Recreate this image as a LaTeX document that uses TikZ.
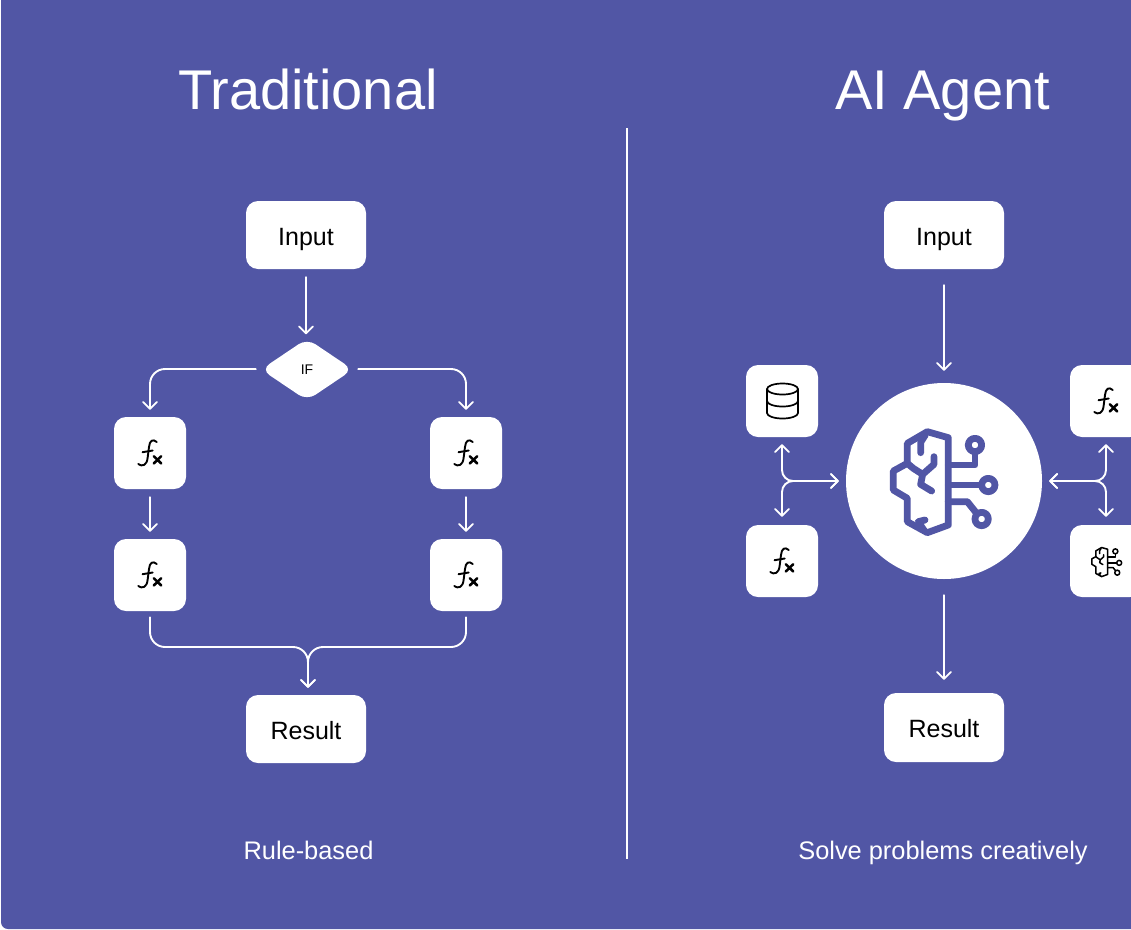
\documentclass[tikz,border=0pt]{standalone}
\usepackage{fontspec}
\setmainfont{Liberation Sans}
\usetikzlibrary{arrows.meta,shapes.geometric}
\definecolor{bgblue}{HTML}{5156A5}
\newcommand{\fxicon}[1]{%
  \begin{scope}[shift={(#1)},black,line cap=round,line join=round]
    \draw[line width=1.9] (6.7,-11) .. controls (3,-14.5) and (-0.5,-12.5) .. (-1,-6) -- (-2.4,5) .. controls (-3.2,12.5) and (-8,14) .. (-11.7,11);
    \draw[line width=1.9] (-7.5,-0.8) -- (2.7,-2.5);
    \draw[line width=2.6] (3.8,3.2) -- (11.2,10.5) (11.2,3.2) -- (3.8,10.5);
  \end{scope}}
\newcommand{\brainicon}[5]{%
  \begin{scope}[shift={(#1)},scale=#2,line cap=round,line join=round,draw=#3,line width=#4]
    \begin{scope}[shift={(-283,-291)}]
      \draw (232,140) -- (295,158) -- (295,420) -- (232,443) -- (172,410) -- (172,340) -- (130,315) -- (130,258) -- (172,235) -- (172,175) -- cycle;
      \draw (226,150) -- (212,172) -- (212,203);
      \draw (172,235) -- (190,250) -- (218,268);
      \draw (252,215) -- (252,238) -- (218,268) -- (212,298) -- (245,318);
      \draw (225,405) -- (205,410) -- (222,436);
      \draw (295,240) -- (375,240) -- (375,200);
      \draw (295,300) -- (395,300);
      \draw (295,350) -- (352,350) -- (380,385);
      \draw[fill=white] (375,180) circle (#5);
      \draw[fill=white] (415,300) circle (#5);
      \draw[fill=white] (395,402) circle (#5);
    \end{scope}
  \end{scope}}
\tikzset{
  x=1pt,y=-1pt,
  box/.style={fill=white,rounded corners=12,inner sep=0,font=\fontsize{25}{28}\selectfont,text=black,text height=20,text depth=0},
  widebox/.style={box,minimum width=120,minimum height=68},
  iconbox/.style={box,minimum width=72,minimum height=72},
  title/.style={text=white,font=\fontsize{56}{64}\selectfont,anchor=base,inner sep=0},
  caption/.style={text=white,font=\fontsize{25.4}{28}\selectfont,anchor=base,inner sep=0},
  barb/.tip={Straight Barb[length=7,width=14,line width=1.8,round]},
  link/.style={draw=white,line width=1.9,line cap=round,-barb},
  twolink/.style={draw=white,line width=1.9,line cap=round,barb-barb},
}
\begin{document}
\begin{tikzpicture}
\useasboundingbox (0,0) rectangle (1131,929);
\fill[white] (0,0) rectangle (1131,929);
\clip (0,0) rectangle (1131,929);
\fill[bgblue,rounded corners=7] (1,-30) rectangle (1160,929);
\node[title] (ttrad) at (308,109) {Traditional};
\node[title] (tai) at (942.5,109) {AI Agent};
\node[caption] (crule) at (308.5,859) {Rule-based};
\node[caption] (csolve) at (943,859) {Solve problems creatively};
\coordinate (divtop) at (627,128);
\coordinate (divbot) at (627,859);
\draw[white,line width=1.6] (divtop) -- (divbot);
% left
\node[widebox] (inA) at (306,235) {Input};
\node[diamond,fill=white,rounded corners=10,inner sep=0,minimum width=92,minimum height=62,aspect=1.5,font=\fontsize{14}{16}\selectfont,text=black] (ifd) at (307,369.5) {IF};
\node[iconbox] (fa) at (150,453) {};
\node[iconbox] (fb) at (150,575) {};
\node[iconbox] (fc) at (466,453) {};
\node[iconbox] (fd) at (466,575) {};
\node[widebox] (resA) at (306,729) {Result};
\fxicon{150,453}\fxicon{150,575}\fxicon{466,453}\fxicon{466,575}
\coordinate (merge) at (308,647);
\draw[link,shorten <=8,shorten >=4] (inA.south) -- (inA.south |- ifd.north);
\draw[link,rounded corners=15,shorten <=5,shorten >=7] (ifd.west |- fa.north |- 0,369) -| (fa.north);
\draw[link,rounded corners=15,shorten <=5,shorten >=7] (ifd.east |- 0,369) -| (fc.north);
\draw[link,shorten <=8,shorten >=7] (fa.south) -- (fb.north);
\draw[link,shorten <=8,shorten >=7] (fc.south) -- (fd.north);
\draw[link,rounded corners=15,shorten <=6,shorten >=7] (fb.south) |- (merge) -- (merge |- resA.north);
\draw[link,rounded corners=15,shorten <=6,shorten >=7] (fd.south) |- (merge) -- (merge |- resA.north);
% right
\node[widebox] (inB) at (944,235) {Input};
\node[widebox,minimum height=69] (resB) at (944,727.5) {Result};
\node[circle,fill=white,minimum size=196,inner sep=0] (hub) at (944,481) {};
\node[iconbox] (db) at (782,401) {};
\node[iconbox] (fe) at (782,561) {};
\node[iconbox] (ff) at (1106,401) {};
\node[iconbox] (br) at (1106,561) {};
\fxicon{782,561}\fxicon{1106,401}
\begin{scope}[shift={(782.5,401)},black,line width=1.7]
  \draw (0,-12) ellipse[x radius=15.5,y radius=5.5];
  \draw (-15.5,-12) -- (-15.5,12) arc[start angle=180,end angle=0,x radius=15.5,y radius=5.5] -- (15.5,-12);
  \draw (-15.5,0) arc[start angle=180,end angle=0,x radius=15.5,y radius=5.5];
\end{scope}
\brainicon{944.3,482}{0.3333}{bgblue}{6.8}{20}
\brainicon{1106.5,562}{0.096}{black}{1.5}{26}
\draw[link,shorten <=16,shorten >=12] (inB.south) -- (hub.north);
\draw[link,shorten <=16,shorten >=13] (hub.south) -- (resB.north);
\coordinate (jl) at (782,481);
\coordinate (jr) at (1106,481);
\draw[twolink,rounded corners=11,shorten <=8,shorten >=7] (fe.north) -- (jl) -- (hub.west);
\draw[twolink,rounded corners=11,shorten <=7,shorten >=7] (db.south) -- (jl) -- (hub.west);
\draw[twolink,rounded corners=11,shorten <=8,shorten >=7] (br.north) -- (jr) -- (hub.east);
\draw[twolink,rounded corners=11,shorten <=7,shorten >=7] (ff.south) -- (jr) -- (hub.east);
\end{tikzpicture}
\end{document}
